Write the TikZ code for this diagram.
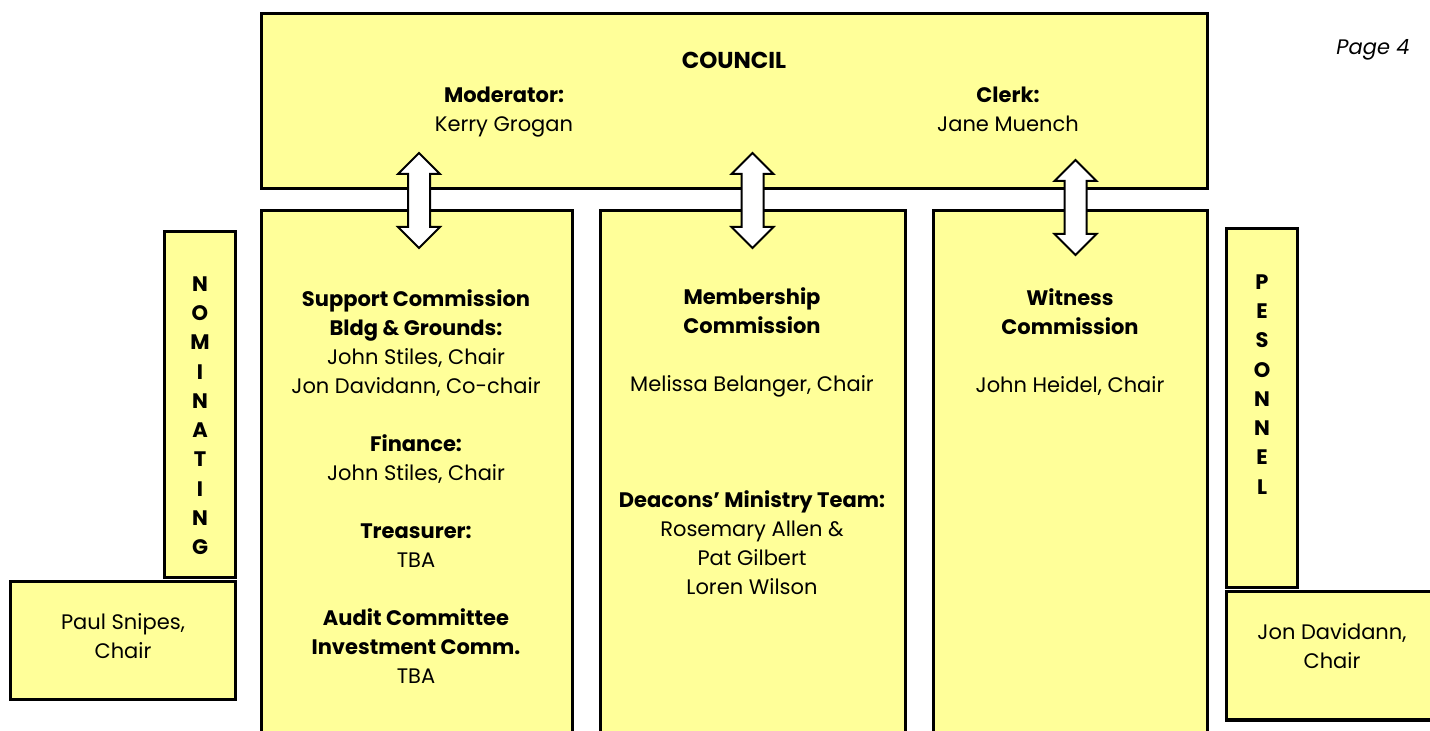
\documentclass[tikz,border=0pt]{standalone}
\usepackage{fontspec}
\setmainfont{Poppins}
\usetikzlibrary{shapes.arrows}
\definecolor{paleyellow}{HTML}{FFFF99}
\newcommand{\txt}{\fontsize{10.5}{14.5}\selectfont}
\tikzset{
  box/.style={draw, line width=1.5pt, fill=paleyellow, inner sep=0pt},
  label/.style={align=center, inner sep=0pt, font=\txt},
  letters/.style={align=center, inner sep=0pt, font=\fontsize{10.5}{14.65}\selectfont\bfseries},
  updown/.style={double arrow, draw, line width=1pt, fill=white, rotate=90,
    minimum height=47.5pt, minimum width=20pt, inner xsep=0pt, inner ysep=5pt,
    double arrow head extend=5pt}
}

\begin{document}
\begin{tikzpicture}[x=0.5pt, y=-0.5pt]
\useasboundingbox (0,0) rectangle (1430,731);
\clip (0,0) rectangle (1430,731);
% boxes
\node[box, minimum width=473pt, minimum height=87.5pt] (council) at (734,101.5) {};
\node[box, minimum width=155.5pt, minimum height=269.5pt] (support) at (416.5,480.5) {};
\node[box, minimum width=152.5pt, minimum height=269.5pt] (member) at (752.5,480.5) {};
\node[box, minimum width=137pt, minimum height=269.5pt] (witness) at (1070,480.5) {};
\node[box, minimum width=35.5pt, minimum height=173pt] (nom) at (199.5,405) {};
\node[box, minimum width=112.5pt, minimum height=59pt] (paul) at (122.5,641) {};
\node[box, minimum width=35.5pt, minimum height=179.5pt] (pers) at (1261.5,408.5) {};
\node[box, minimum width=140pt, minimum height=64pt] (jon) at (1366,656) {};

% council texts
\node[label, font=\fontsize{11.5}{14.5}\selectfont\bfseries] (title) at (734,60) {COUNCIL};
\node[label, anchor=north] (moderator) at (504,87) {\textbf{Moderator:}\\Kerry Grogan};
\node[label, anchor=north] (clerk) at (1008,87) {\textbf{Clerk:}\\Jane Muench};
\node[label, font=\txt\itshape] (page) at (1373,50) {Page 4};

% commission texts
\node[label, anchor=north] (supporttext) at (416,289) {\textbf{Support Commission}\\
  \textbf{Bldg \& Grounds:}\\John Stiles, Chair\\Jon Davidann, Co-chair\\[14.5pt]
  \textbf{Finance:}\\John Stiles, Chair\\[14.5pt]
  \textbf{Treasurer:}\\TBA\\[14.5pt]
  \textbf{Audit Committee}\\\textbf{Investment Comm.}\\TBA};
\node[label, anchor=north] (membertext) at (752,287) {\textbf{Membership}\\
  \textbf{Commission}\\[14.5pt]Melissa Belanger, Chair\\[43.5pt]
  \textbf{Deacons' Ministry Team:}\\Rosemary Allen \&\\Pat Gilbert\\Loren Wilson};
\node[label, anchor=north] (witnesstext) at (1070,288) {\textbf{Witness}\\
  \textbf{Commission}\\[14.5pt]John Heidel, Chair};

% side committees
\node[letters, anchor=north] (nomtext) at (200,276) {N\\O\\M\\I\\N\\A\\T\\I\\N\\G};
\node[letters, anchor=north] (perstext) at (1262,274) {P\\E\\S\\O\\N\\N\\E\\L};
\node[label] (paultext) at (123,636) {Paul Snipes,\\Chair};
\node[label] (jontext) at (1332,646) {Jon Davidann,\\Chair};

% links
\node[updown] (link1) at (419,200.5) {};
\node[updown] (link2) at (752.5,200.5) {};
\node[updown] (link3) at (1075.5,207.5) {};
\end{tikzpicture}
\end{document}
